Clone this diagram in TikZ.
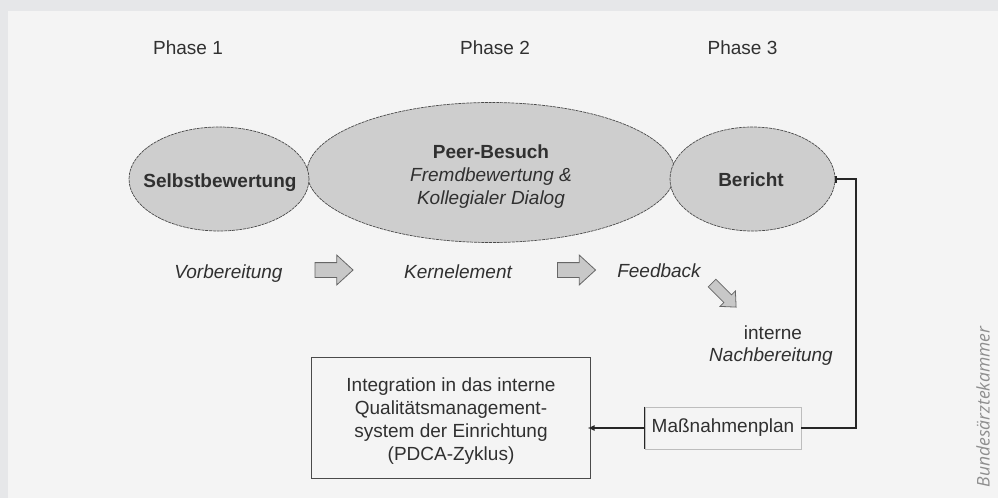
\documentclass[tikz,border=0pt]{standalone}
\usepackage{fontspec}
\setmainfont{Liberation Sans}
\newfontfamily\credfont{Open Sans}
\usetikzlibrary{shapes.geometric,shapes.arrows,arrows.meta}
\definecolor{outerbg}{HTML}{E6E7E9}
\definecolor{panelbg}{HTML}{F4F4F4}
\definecolor{txt}{HTML}{303030}
\definecolor{ellfill}{HTML}{CECECE}
\definecolor{ellline}{HTML}{4A4A4A}
\definecolor{arrfill}{HTML}{C8C8C8}
\definecolor{arrline}{HTML}{666666}
\definecolor{connc}{HTML}{262626}
\definecolor{credit}{HTML}{8E8E8E}
\definecolor{lightbox}{HTML}{BDBDBD}
\begin{document}
\begin{tikzpicture}[x=1pt,y=-1pt,
  every node/.style={font=\fontsize{19}{23}\selectfont, text=txt},
  phaseell/.style={ellipse, fill=ellfill, draw=ellline, line width=0.7pt,
    dash pattern=on 3pt off 0.8pt, inner sep=0pt},
  blockarr/.style={single arrow, fill=arrfill, draw=arrline, line width=0.8pt,
    inner xsep=0pt, single arrow tip angle=85},
  horarr/.style={blockarr, inner ysep=7pt, single arrow head extend=7.5pt, minimum height=38pt},
  plaintxt/.style={anchor=base},
  itxt/.style={anchor=base, font=\fontsize{19}{23}\selectfont\itshape},
  btxt/.style={anchor=base, font=\fontsize{19}{23}\selectfont\bfseries},
  conn/.style={draw=connc, line width=1.6pt},
]
\useasboundingbox (0,0) rectangle (998,498);
\fill[outerbg] (0,0) rectangle (998,498);
\fill[panelbg] (8,11) rectangle (998,498);

% phase headings
\node[plaintxt] (ph1) at (188,54.5) {Phase 1};
\node[plaintxt] (ph2) at (495,54.5) {Phase 2};
\node[plaintxt] (ph3) at (742.5,54.5) {Phase 3};

% ellipses
\node[phaseell, minimum width=368pt, minimum height=140pt] (peer) at (491,172.5) {};
\node[phaseell, minimum width=180pt, minimum height=104pt] (selbst) at (219,179) {};
\node[phaseell, minimum width=165pt, minimum height=104pt] (bericht) at (752.5,179) {};
\node[align=center] (peertext) at (491,176.5)
  {\textbf{Peer-Besuch}\\\textit{Fremdbewertung \&}\\\textit{Kollegialer Dialog}};
\node[btxt] (selbsttext) at (220,187) {Selbstbewertung};
\node[btxt] (berichttext) at (751,186) {Bericht};

% step row
\node[itxt] (vorb) at (228.5,278) {Vorbereitung};
\node[horarr] (arr1) at (330,270) {};
\node[itxt] (kern) at (458,278) {Kernelement};
\node[horarr] (arr2) at (572.5,270) {};
\node[itxt] (feed) at (659,277.5) {Feedback};
\node[blockarr, rotate=-45, inner ysep=5pt, single arrow head extend=5.5pt, minimum height=34pt] (arr3) at (722,293) {};
\node[plaintxt] (intern) at (773,339.5) {interne};
\node[itxt] (nachb) at (771,361) {Nachbereitung};

% boxes
\node[draw=ellline, line width=1pt, fill=panelbg, minimum width=279pt, minimum height=121pt,
  inner sep=0pt] (integ) at (450.5,417.5) {};
\node[align=center] (integtext) at (451,421.5)
  {Integration in das interne\\Qualitätsmanagement-\\system der Einrichtung\\(PDCA-Zyklus)};
\node[draw=lightbox, line width=0.8pt, fill=panelbg, minimum width=156pt, minimum height=42pt,
  inner sep=0pt] (mass) at (723,428) {Maßnahmenplan};
\draw[conn] (mass.north west) -- (mass.south west);

% connectors
\draw[conn, {Bar[width=7pt,line width=1.2pt]}-] (bericht.east) -- ++(20.5,0) |- (mass.east);
\draw[conn, -{Latex[length=7pt,width=6pt]}, shorten >=-3pt] (mass.west) -- (mass.west -| integ.east);

% credit
\node[rotate=90, text=credit, font=\credfont\itshape\fontsize{17.5}{20}\selectfont] (cred) at (983,407) {Bundesärztekammer};
\end{tikzpicture}
\end{document}
